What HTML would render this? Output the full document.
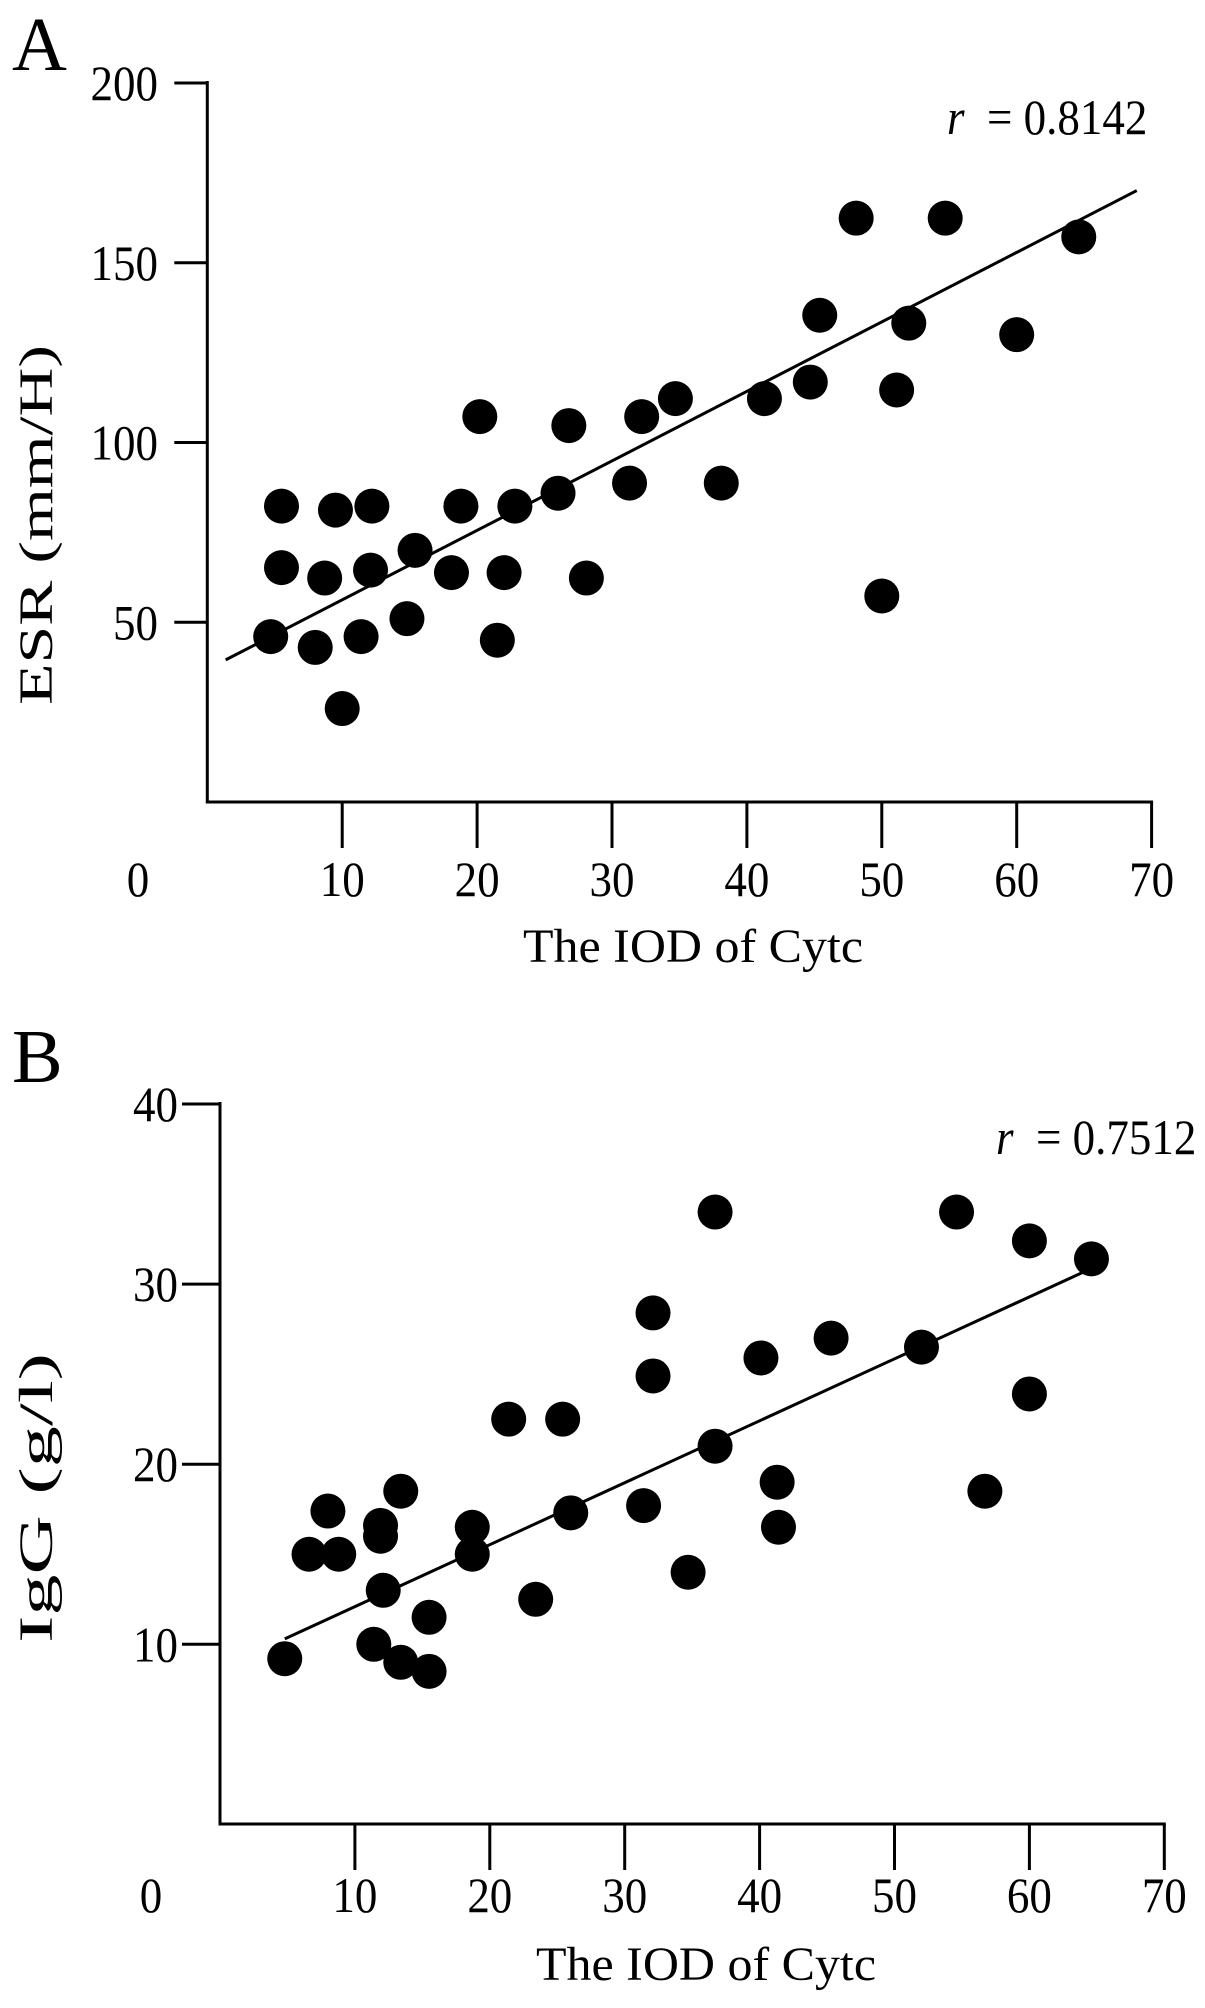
<!DOCTYPE html>
<html><head><meta charset="utf-8"><style>
html,body{margin:0;padding:0;background:#fff;}
svg{display:block;font-family:"Liberation Serif",serif;}
</style></head><body>
<svg id="fig" width="1205" height="2008" viewBox="0 0 1205 2008"></svg>
<script>
// Panel A data
const aX = [5.5,5.5,4.7,8.7,8.0,9.5,12.2,12.1,11.4,10.0,14.8,15.4,18.1,18.8,20.2,22.0,21.5,22.8,26.0,26.8,28.1,31.3,32.2,34.7,38.1,41.3,44.7,45.4,48.1,50.0,51.1,52.0,54.7,60.0,64.6];
const aY = [82.3,65.2,46,62.3,43,81.2,82.3,64.5,46,26,51,70,63.8,82.3,107.2,63.8,45,82.3,85.9,104.7,62.3,88.7,107.2,112.2,88.7,112.2,116.8,135.4,162.4,57.3,114.6,133.2,162.4,130,157.2];
const aFit = [1.36, 68.9]; const aSlope = 1.933; const aIntercept = 36.9;
const aYTicks = [50,100,150,200];
// Panel B data
const bX = [4.8,6.6,8.0,8.8,11.9,11.9,12.1,11.4,13.4,13.4,15.5,15.5,18.7,18.7,21.4,23.4,25.4,26.0,31.4,32.1,32.1,34.7,36.7,36.7,40.1,41.3,41.4,45.3,52.0,54.6,56.7,60.0,60.0,64.6];
const bY = [9.2,15.0,17.4,15.0,16.6,16.0,13.0,10.0,9.0,18.5,11.5,8.5,16.5,15.0,22.5,12.5,22.5,17.3,17.7,28.4,24.9,14.0,34.0,21.0,25.9,19.0,16.5,27.0,26.5,34.0,18.5,32.4,23.9,31.4];
const bFit = [4.8, 64.4]; const bSlope = 0.344; const bIntercept = 8.65;
const bYTicks = [10,20,30,40];
const xTicks = [10,20,30,40,50,60,70];

const NS="http://www.w3.org/2000/svg";
const svg=document.getElementById('fig');
function mk(tag,attrs,parent,text){const e=document.createElementNS(NS,tag);for(const k in attrs)e.setAttribute(k,attrs[k]);if(text!==undefined)e.textContent=text;(parent||svg).appendChild(e);return e;}

function panel(p){
  const g=mk('g',{});
  
  
  const sx=v=>p.x0+v*p.kx, sy=v=>p.y0-v*p.ky;
  const t=mk('text',{x:p.labX,y:p.labY,'font-size':76},g,p.id.toUpperCase());
  
  
  const ya=mk('line',{x1:p.x0,y1:p.top,x2:p.x0,y2:p.axisY,stroke:'#000','stroke-width':3},g);
  
  
  const xa=mk('line',{x1:p.x0-1.5,y1:p.axisY,x2:sx(70)+1.5,y2:p.axisY,stroke:'#000','stroke-width':3},g);
  
  
  p.yTicks.forEach(v=>{
    const l=mk('line',{x1:p.x0-p.tickLen,y1:sy(v),x2:p.x0,y2:sy(v),stroke:'#000','stroke-width':3},g);
    
    
    const tx=mk('text',{x:0,y:0,'font-size':50,'text-anchor':'end',transform:`translate(${p.yLabR},${sy(v)+17}) scale(0.9,1)`},g,String(v));
    
    
  });
  xTicks.forEach(v=>{
    const l=mk('line',{x1:sx(v),y1:p.axisY,x2:sx(v),y2:p.axisY+46,stroke:'#000','stroke-width':3},g);
    
    
    const tx=mk('text',{x:0,y:0,'font-size':50,'text-anchor':'middle',transform:`translate(${sx(v)},${p.xLabY}) scale(0.9,1)`},g,String(v));
    
    
  });
  const z=mk('text',{x:0,y:0,'font-size':50,'text-anchor':'middle',transform:`translate(${p.zeroX},${p.xLabY}) scale(0.9,1)`},g,'0');
  
  
  const xt=mk('text',{x:p.xtX,y:p.xtY,'font-size':48,'text-anchor':'middle',textLength:340,lengthAdjust:'spacingAndGlyphs'},g,'The IOD of Cytc');
  
  
  const yt=mk('text',{x:0,y:0,'font-size':48,'text-anchor':'middle',textLength:p.ytLen,lengthAdjust:'spacingAndGlyphs',transform:`translate(${p.ytX},${p.ytY}) rotate(-90)`},g,p.ytitle);
  
  
  const fl=mk('line',{x1:sx(p.fit[0]),y1:sy(p.slope*p.fit[0]+p.intercept),x2:sx(p.fit[1]),y2:sy(p.slope*p.fit[1]+p.intercept),stroke:'#000','stroke-width':3},g);
  
  
  p.xs.forEach((xv,i)=>{
    const c=mk('circle',{cx:sx(xv),cy:sy(p.ys[i]),r:17.5,fill:'#000'},g);
    
    
  });
  const r=mk('text',{x:0,y:0,'font-size':50,transform:`translate(${p.rX},${p.rY}) scale(0.9,1)`},g);
  
  
  mk('tspan',{'font-style':'italic'},r,'r');
  mk('tspan',{},r,'\u00a0\u00a0= '+p.r);
}
panel({id:'a',x0:207.3,y0:802,kx:13.49,ky:3.595,top:81,axisY:802,tickLen:33,yTicks:aYTicks,yLabR:158,xLabY:896,zeroX:138,
  xtX:693,xtY:962,ytX:52,ytY:525,ytLen:360,ytitle:'ESR (mm/H)',fit:aFit,slope:aSlope,intercept:aIntercept,xs:aX,ys:aY,
  rX:947,rY:134,r:'0.8142',labX:12,labY:70});
panel({id:'b',x0:220,y0:1824.4,kx:13.49,ky:18.01,top:1102,axisY:1824,tickLen:38,yTicks:bYTicks,yLabR:178,xLabY:1912,zeroX:151,
  xtX:706,xtY:1980,ytX:52,ytY:1498,ytLen:290,ytitle:'IgG (g/l)',fit:bFit,slope:bSlope,intercept:bIntercept,xs:bX,ys:bY,
  rX:996,rY:1154,r:'0.7512',labX:12,labY:1082});
</script>
</body></html>
